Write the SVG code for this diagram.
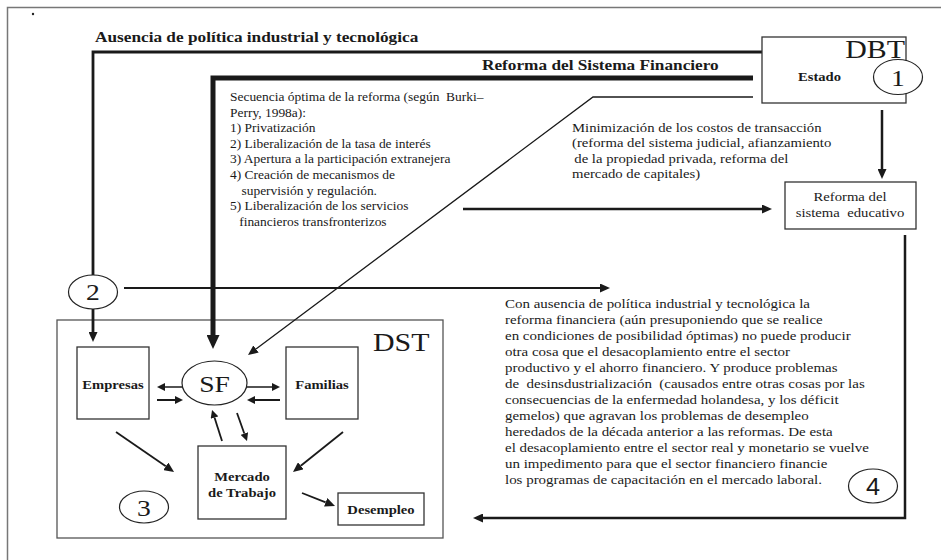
<svg xmlns="http://www.w3.org/2000/svg" width="941" height="560" viewBox="0 0 941 560">
<style>
text{font-family:"Liberation Serif","Times New Roman",serif;fill:#1a1a1a}
.b{font-weight:bold}
.box{fill:#fff;stroke:#333;stroke-width:1.3}
.ell{fill:#fff;stroke:#222;stroke-width:1.2}
.ln{fill:none;stroke:#1a1a1a;stroke-linecap:butt}
.frame{fill:none;stroke:#777;stroke-width:1.5}
</style>
<defs>
<marker id="ah" markerUnits="userSpaceOnUse" viewBox="0 0 10 10" refX="0" refY="5" markerWidth="10" markerHeight="9" preserveAspectRatio="none" orient="auto"><path d="M0,0 L10,5 L0,10 z" fill="#1a1a1a"/></marker>
<marker id="as" markerUnits="userSpaceOnUse" viewBox="0 0 10 10" refX="0" refY="5" markerWidth="8" markerHeight="8" preserveAspectRatio="none" orient="auto"><path d="M0,0 L10,5 L0,10 z" fill="#1a1a1a"/></marker>
<marker id="ahL" markerUnits="userSpaceOnUse" viewBox="0 0 10 10" refX="0" refY="5" markerWidth="14" markerHeight="13" preserveAspectRatio="none" orient="auto"><path d="M0,0 L10,5 L0,10 z" fill="#1a1a1a"/></marker>
</defs>

<g id="frame">
<path class="frame" d="M7.5,560 V7.5 H941"/>
<circle cx="33" cy="14" r="1.2" fill="#222"/>
</g>

<g id="dst">
<rect x="57" y="320" width="386" height="218" fill="none" stroke="#555" stroke-width="1.3"/>
<text font-size="26" transform="translate(373,351) scale(1.15,1)">DST</text>
</g>

<g id="connectors">
<path class="ln" stroke-width="2.8" d="M762,52 H93 V332" marker-end="url(#ah)"/>
<path class="ln" stroke-width="5" d="M753,78 H213 V335" marker-end="url(#ahL)"/>
<path class="ln" stroke-width="0.8" stroke="#8a8a8a" d="M753,78 H213 V335"/>
<path class="ln" stroke-width="1.3" d="M753,97 H593 L256,349" marker-end="url(#ah)"/>
<path class="ln" stroke-width="2" d="M124,288 H600" marker-end="url(#ah)"/>
<path class="ln" stroke-width="2.5" d="M463,209 H762" marker-end="url(#ah)"/>
<path class="ln" stroke-width="2.5" d="M882,110 V169" marker-end="url(#ah)"/>
<path class="ln" stroke-width="2.5" d="M905,235 V518 H483" marker-end="url(#ah)"/>
<path class="ln" stroke-width="1.5" d="M182,387 H165" marker-end="url(#as)"/>
<path class="ln" stroke-width="2" d="M157,400 H175" marker-end="url(#as)"/>
<path class="ln" stroke-width="1.5" d="M247,387 H272" marker-end="url(#as)"/>
<path class="ln" stroke-width="2" d="M280,400 H255" marker-end="url(#as)"/>
<path class="ln" stroke-width="1.8" d="M222,441 L214.5,417.6" marker-end="url(#as)"/>
<path class="ln" stroke-width="1.8" d="M237,413 L244.3,433.5" marker-end="url(#as)"/>
<path class="ln" stroke-width="1.8" d="M116,432 L165.8,466.3" marker-end="url(#ah)"/>
<path class="ln" stroke-width="1.8" d="M343,432 L300.8,465.8" marker-end="url(#ah)"/>
<path class="ln" stroke-width="1.8" d="M302,493 L325.7,502.3" marker-end="url(#ah)"/>
</g>

<g id="labels">
<text class="b" font-size="15" transform="translate(95,42) scale(1.15,1)">Ausencia de política industrial y tecnológica</text>
<text class="b" font-size="15" transform="translate(482,70) scale(1.15,1)">Reforma del Sistema Financiero</text>
<g id="secuencia" font-size="11.7" transform="translate(230,101) scale(1.15,1)">
<text x="0" y="0" xml:space="preserve">Secuencia óptima de la reforma (según  Burki–</text>
<text x="0" y="15.6">Perry, 1998a):</text>
<text x="0" y="31.2">1) Privatización</text>
<text x="0" y="46.8">2) Liberalización de la tasa de interés</text>
<text x="0" y="62.4">3) Apertura a la participación extranejera</text>
<text x="0" y="78">4) Creación de mecanismos de</text>
<text x="10" y="93.6">supervisión y regulación.</text>
<text x="0" y="109.2">5) Liberalización de los servicios</text>
<text x="8" y="124.8">financieros transfronterizos</text>
</g>
<g id="minimizacion" font-size="12.8" transform="translate(572,132) scale(1.15,1)">
<text x="0" y="0">Minimización de los costos de transacción</text>
<text x="0" y="15.3">(reforma del sistema judicial, afianzamiento</text>
<text x="2" y="30.6">de la propiedad privada, reforma del</text>
<text x="0" y="45.9">mercado de capitales)</text>
</g>
<g id="parrafo" font-size="13" transform="translate(505,308) scale(1.15,1)">
<text x="0" y="0">Con ausencia de política industrial y tecnológica la</text>
<text x="0" y="16">reforma financiera (aún presuponiendo que se realice</text>
<text x="0" y="32">en condiciones de posibilidad óptimas) no puede producir</text>
<text x="0" y="48">otra cosa que el desacoplamiento entre el sector</text>
<text x="0" y="64">productivo y el ahorro financiero. Y produce problemas</text>
<text x="0" y="80" xml:space="preserve">de  desinsdustrialización  (causados entre otras cosas por las</text>
<text x="0" y="96">consecuencias de la enfermedad holandesa, y los déficit</text>
<text x="0" y="112">gemelos) que agravan los problemas de desempleo</text>
<text x="0" y="128">heredados de la década anterior a las reformas. De esta</text>
<text x="0" y="144">el desacoplamiento entre el sector real y monetario se vuelve</text>
<text x="0" y="160">un impedimento para que el sector financiero financie</text>
<text x="0" y="176">los programas de capacitación en el mercado laboral.</text>
</g>
</g>

<g id="estado">
<rect class="box" x="762" y="37" width="144" height="66"/>
<text font-size="26" text-anchor="end" transform="translate(905,58) scale(1.15,1)">DBT</text>
<text class="b" font-size="12.7" transform="translate(798,81) scale(1.15,1)">Estado</text>
</g>
<g id="n1">
<ellipse class="ell" cx="898" cy="77" rx="24.5" ry="17.5"/>
<text font-size="24" text-anchor="middle" transform="translate(898,85.5) scale(1.15,1)">1</text>
</g>
<g id="educativo">
<rect class="box" x="785" y="182" width="131" height="47"/>
<text font-size="12.8" text-anchor="middle" transform="translate(850,201) scale(1.15,1)">Reforma del</text>
<text font-size="12.8" text-anchor="middle" xml:space="preserve" transform="translate(850,217) scale(1.15,1)">sistema  educativo</text>
</g>
<g id="n2">
<ellipse class="ell" cx="93" cy="292" rx="24.5" ry="17"/>
<text font-size="24" text-anchor="middle" transform="translate(93,300) scale(1.15,1)">2</text>
</g>
<g id="empresas">
<rect class="box" x="77" y="347" width="72" height="72"/>
<text class="b" font-size="12.7" text-anchor="middle" transform="translate(113,389) scale(1.15,1)">Empresas</text>
</g>
<g id="sf">
<ellipse class="ell" cx="214.5" cy="383" rx="32.5" ry="22"/>
<text font-size="24" text-anchor="middle" transform="translate(214.5,391.5) scale(1.15,1)">SF</text>
</g>
<g id="familias">
<rect class="box" x="286" y="347" width="72" height="72"/>
<text class="b" font-size="12.7" text-anchor="middle" transform="translate(322,389) scale(1.15,1)">Familias</text>
</g>
<g id="mercado">
<rect class="box" x="198" y="446" width="88" height="73"/>
<text class="b" font-size="12.7" text-anchor="middle" transform="translate(242,481) scale(1.15,1)">Mercado</text>
<text class="b" font-size="12.7" text-anchor="middle" transform="translate(242,497) scale(1.15,1)">de Trabajo</text>
</g>
<g id="desempleo">
<rect class="box" x="338" y="493" width="86" height="32"/>
<text class="b" font-size="12.7" text-anchor="middle" transform="translate(381,514) scale(1.15,1)">Desempleo</text>
</g>
<g id="n3">
<ellipse class="ell" cx="144" cy="507" rx="24.5" ry="16"/>
<text font-size="24" text-anchor="middle" transform="translate(144,515.5) scale(1.15,1)">3</text>
</g>
<g id="n4">
<ellipse class="ell" cx="873" cy="486" rx="24.5" ry="17"/>
<text font-size="23" text-anchor="middle" style="font-family:'Liberation Sans',Arial,sans-serif" transform="translate(873,494.5) scale(1.1,1)">4</text>
</g>
</svg>
